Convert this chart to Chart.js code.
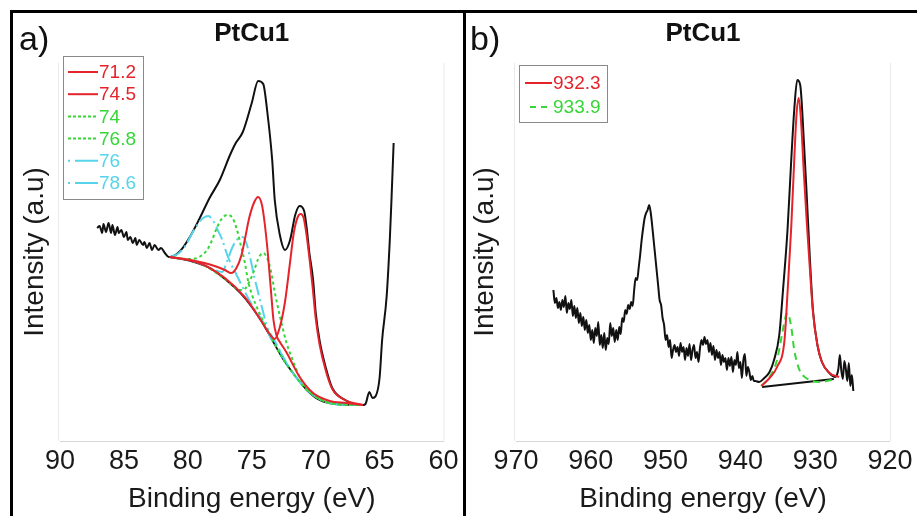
<!DOCTYPE html>
<html><head><meta charset="utf-8">
<script src="https://cdn.jsdelivr.net/npm/chart.js@4.4.1/dist/chart.umd.min.js"></script>
<style>
html,body{margin:0;padding:0;background:#fff;width:917px;height:516px;overflow:hidden;}
#wrap{position:relative;width:917px;height:516px;}
canvas{position:absolute;top:0;}
.ln{position:absolute;background:#000;z-index:5;}
.lbl{position:absolute;font-family:"Liberation Sans",Arial,sans-serif;font-size:34px;line-height:34px;color:#111;z-index:6;}
</style></head><body>
<div id="wrap">
<canvas id="cA" width="463" height="516" style="left:0"></canvas>
<canvas id="cB" width="454" height="516" style="left:463px"></canvas>
<div class="ln" style="left:10px;top:10px;width:907px;height:3px"></div>
<div class="ln" style="left:10px;top:10px;width:3px;height:506px"></div>
<div class="ln" style="left:463px;top:10px;width:3px;height:506px"></div>
<div class="lbl" style="left:19px;top:21px">a)</div>
<div class="lbl" style="left:470px;top:21px">b)</div>
</div>
<script>
// ---------- Panel a : Pt 4f ----------
const ptE = [87.1,86.9,86.7,86.6,86.4,86.2,86.0,85.9,85.7,85.5,85.4,85.2,85.0,84.8,84.7,84.5,84.3,84.1,84.0,83.8,83.5,83.4,83.2,83.0,82.8,82.6,82.3,82.1,81.8,81.5,
  81.4,80.6,79.8,79.1,78.3,77.5,76.7,76.25,75.7,75.0,74.5,74.1,73.8,73.4,73.2,72.8,72.4,72.0,71.6,71.25,70.9,70.7,70.5,70.2,70.0,69.7,69.2,68.7,67.7,66.3,66.1,65.8,65.55,65.3,65.0,64.8,64.45,64.2,64.06,63.9];
const ptI = [213,215,208,217,209,218,208,216,206,214,208,211,204,209,201,204,198,203,196,201,196,199,193,198,191,196,191,193,188,184,
  184,190,205,222,243,261,286,298,309,338,360,357,331,281,241,206,191,201,226,235,230,213,189,161,129,101,73,53,41,36,37,49,43,45,63,101,144,201,244,298];
const ptBgE = [81.4,79.8,78.3,77.1,75.9,75.0,74.2,73.4,72.6,71.6,70.7,69.7,68.5,66.3];
const ptBgI = [184,180,173,162,148,134,119,101,83,65,51,41,37,36];
const pt712E = [81.4,79.1,77.1,75.55,74.4,73.6,73.2,72.8,72.4,72.0,71.7,71.4,71.17,70.94,70.7,70.47,70.23,70.0,69.7,69.2,68.7,67.7,66.3];
const pt712I = [184,178,163,144,123,107,102,114,139,179,209,224,227,223,205,181,153,123,97,70,52,41,36];
const pt745E = [81.4,79.8,78.7,77.9,77.1,76.6,76.2,75.8,75.5,75.2,74.8,74.5,74.2,74.0,73.75,73.5,73.3,73.05,72.8,72.3,71.25,70.2,68.9,67.6,66.3];
const pt745I = [184,181,178,175,171,168,173,186,204,223,239,244,236,219,189,151,121,105,99,89,64,48,40,38,36];
const pt74E = [81.4,79.1,77.1,75.9,75.55,75.2,74.8,74.5,74.1,73.8,73.5,73.2,72.8,72.3,71.8,71.25,70.5,68.5,66.3];
const pt74I = [184,178,162,151,152,159,171,182,188,183,170,149,125,99,81,64,50,37,36];
const pt768E = [81.4,79.8,79.1,78.5,78.1,77.7,77.3,76.9,76.5,76.2,75.9,75.55,75.3,75.0,74.4,73.6,72.6,71.6,70.5,68.5,66.3];
const pt768I = [184,182,184,191,201,214,223,226,223,213,198,179,161,147,128,107,83,65,49,37,36];
const pt76E = [81.4,79.1,77.9,77.3,76.9,76.5,76.1,75.7,75.4,75.1,74.8,74.45,74.05,73.6,73.05,72.0,70.5,68.5,66.3];
const pt76I = [184,178,171,169,181,194,202,204,197,182,164,146,126,105,95,72,49,37,36];
const pt786E = [81.4,80.8,80.2,79.7,79.2,78.8,78.4,78.05,77.7,77.3,77.0,76.7,76.3,75.8,75.2,74.2,73.2,72.0,70.5,68.5,66.3];
const pt786I = [184,187,195,207,217,223,225,221,212,201,189,179,169,156,141,121,100,72,49,37,36];
const ptTicks = [90,85,80,75,70,65,60];

// ---------- Panel b : Cu 2p ----------
const cuE = [965.0,964.8,964.6,964.4,964.2,964.0,963.8,963.6,963.4,963.2,
  963.0,962.8,962.6,962.4,962.2,962.0,961.8,961.6,961.4,961.2,
  961.0,960.8,960.6,960.4,960.2,960.0,959.8,959.6,959.4,959.2,
  959.0,958.8,958.6,958.4,958.2,958.0,957.8,957.6,957.4,957.2,
  957.0,956.8,956.6,956.4,956.2,956.0,955.8,955.6,955.4,955.2,
  955.0,954.8,954.6,954.4,954.2,954.0,953.8,953.6,953.4,953.2,
  953.0,952.8,952.6,952.4,952.2,952.0,951.8,951.6,951.4,951.2,
  951.0,950.8,950.6,950.4,950.2,950.0,949.8,949.6,949.4,949.2,
  949.0,948.8,948.6,948.4,948.2,948.0,947.8,947.6,947.4,947.2,
  947.0,946.8,946.6,946.4,946.2,946.0,945.8,945.6,945.4,945.2,
  945.0,944.8,944.6,944.4,944.2,944.0,943.8,943.6,943.4,943.2,
  943.0,942.8,942.6,942.4,942.2,942.0,941.8,941.6,941.4,941.2,
  941.0,940.8,940.6,940.4,940.2,940.0,939.8,939.6,939.4,939.2,
  939.0,938.8,938.6,938.4,938.2,938.0,
  937.5,936.8,936.1,935.5,934.8,934.3,933.7,933.2,932.8,932.4,932.0,931.5,931.1,930.7,930.3,929.7,929.1,928.1,927.3,
  927.1,926.9,926.7,926.5,926.3,926.1,925.9,925.7,925.5,925.3,925.1,924.9];
const cuI = [151,138,143,133,139,131,141,134,145,128,
  138,132,141,125,135,123,133,118,128,115,
  124,111,121,108,116,101,111,98,113,105,
  119,96,106,93,108,91,103,97,118,105,
  113,99,111,101,114,107,123,119,131,127,
  136,132,139,135,151,163,161,173,186,201,
  213,223,228,231,236,229,216,201,186,171,
  156,141,136,123,116,101,106,94,101,83,
  91,96,89,94,85,98,89,94,81,93,
  85,97,81,91,96,83,89,79,93,101,
  96,104,97,101,89,98,86,95,81,91,
  83,89,76,86,79,83,71,83,75,84,
  69,81,76,89,73,79,63,81,87,65,
  74,69,61,65,60,60,
  59,63,69,81,106,151,211,281,331,361,356,298,241,181,131,96,79,68,64,
  66,72,86,70,62,80,72,60,78,55,66,50];
const cu9323E = [937.2,936.1,935.1,934.1,933.7,933.2,932.8,932.5,932.2,931.9,931.5,931.1,930.7,930.3,929.7,929.1,928.1,926.8];
const cu9323I = [55,63,74,101,148,214,281,326,343,321,266,216,171,129,96,79,68,64];
const cu9339E = [937.2,936.1,935.1,934.4,934.0,933.7,933.2,932.8,932.1,931.2,929.5,927.7];
const cu9339I = [55,64,81,108,123,128,114,91,71,63,59,61];
const cuBgE = [937.1,927.5];
const cuBgI = [54,62];
const cuTicks = [970,960,950,940,930,920];

// ---------- helpers ----------
const FAM = '"Liberation Sans", Arial, sans-serif';
Chart.defaults.font.family = FAM;
const pts = (E, I) => E.map((e, i) => ({x: e, y: I[i]}));
const RED = '#e5232b', GREEN = '#36d636', CYAN = '#55d4ea', BLACK = '#111111';

const plotFrame = {
  id: 'plotFrame',
  beforeDatasetsDraw(chart) {
    const {ctx, chartArea: a} = chart;
    ctx.save();
    ctx.strokeStyle = '#ebebeb'; ctx.lineWidth = 1;
    ctx.beginPath();
    ctx.moveTo(a.left - 1.5, a.top); ctx.lineTo(a.left - 1.5, a.bottom);
    ctx.moveTo(a.right + 0.5, a.top); ctx.lineTo(a.right + 0.5, a.bottom);
    ctx.stroke();
    ctx.restore();
  }
};
const boxLegend = {
  id: 'boxLegend',
  afterDraw(chart, args, o) {
    const ctx = chart.ctx;
    ctx.save();
    ctx.strokeStyle = '#8a8a8a'; ctx.lineWidth = 1;
    ctx.strokeRect(o.x + 0.5, o.y + 0.5, o.w, o.h);
    ctx.font = o.fontSize + 'px ' + FAM;
    ctx.textBaseline = 'middle'; ctx.textAlign = 'left';
    o.items.forEach((it, i) => {
      const ds = chart.data.datasets.find(d => d.label === it.label);
      const cy = o.firstY + i * o.rowH;
      ctx.strokeStyle = ds.borderColor; ctx.lineWidth = 2;
      ctx.setLineDash(it.dash || []); ctx.lineDashOffset = it.offset || 0;
      ctx.beginPath(); ctx.moveTo(o.lineX0, cy); ctx.lineTo(o.lineX1, cy); ctx.stroke();
      ctx.setLineDash([]);
      ctx.fillStyle = ds.borderColor;
      ctx.fillText(ds.label, o.textX, cy + 1);
    });
    ctx.restore();
  }
};

function makeOptions(cfg) {
  return {
    responsive: false, animation: false,
    layout: {padding: {left: cfg.padL, right: cfg.padR, top: 0, bottom: 0}},
    elements: {point: {radius: 0}, line: {cubicInterpolationMode: 'monotone'}},
    plugins: {
      legend: {display: false}, tooltip: {enabled: false},
      title: {display: true, text: 'PtCu1', fullSize: false, color: '#111',
        font: {size: 26, weight: 'bold', family: FAM}, padding: {top: 18.7, bottom: 13.1}},
      boxLegend: cfg.legend
    },
    scales: {
      x: {type: 'linear', reverse: true, min: cfg.min, max: cfg.max,
        afterBuildTicks: s => { s.ticks = cfg.ticks.map(v => ({value: v})); },
        ticks: {color: '#1a1a1a', font: {size: 27, family: FAM}, padding: 4.5, autoSkip: false, maxRotation: 0},
        grid: {display: false, drawTicks: false},
        border: {display: true, color: '#d6d6d6', width: 1},
        title: {display: true, text: 'Binding energy (eV)', color: '#1a1a1a', font: {size: 28, family: FAM}, padding: {top: 0, bottom: 0}},
        afterFit: s => { s.height = 75; }
      },
      y: {type: 'linear', min: 0, max: 378,
        ticks: {display: false}, grid: {display: false, drawTicks: false}, border: {display: false},
        title: {display: true, text: 'Intensity (a.u)', color: '#1a1a1a', font: {size: 28, family: FAM}, padding: {top: 0.5, bottom: 0}},
        afterFit: s => { s.width = cfg.yW; }
      }
    }
  };
}

new Chart(document.getElementById('cA'), {
  type: 'line',
  data: {datasets: [
    {label: 'Pt 4f', data: pts(ptE, ptI), borderColor: BLACK, borderWidth: 2, order: 6},
    {label: 'Background', data: pts(ptBgE, ptBgI), borderColor: BLACK, borderWidth: 1.8, order: 5},
    {label: '76', data: pts(pt76E, pt76I), borderColor: CYAN, borderWidth: 2, borderDash: [14, 4, 2, 4], order: 4},
    {label: '78.6', data: pts(pt786E, pt786I), borderColor: CYAN, borderWidth: 2, borderDash: [14, 4, 2, 4], order: 4},
    {label: '74', data: pts(pt74E, pt74I), borderColor: GREEN, borderWidth: 2, borderDash: [3, 3], order: 3},
    {label: '76.8', data: pts(pt768E, pt768I), borderColor: GREEN, borderWidth: 2, borderDash: [3, 3], order: 3},
    {label: '71.2', data: pts(pt712E, pt712I), borderColor: RED, borderWidth: 2, order: 1},
    {label: '74.5', data: pts(pt745E, pt745I), borderColor: RED, borderWidth: 2, order: 2}
  ]},
  options: makeOptions({padL: 18, padR: 19, yW: 42, min: 60, max: 90, ticks: ptTicks,
    legend: {x: 63, y: 56, w: 80, h: 143, firstY: 72, rowH: 22.2, lineX0: 68, lineX1: 98, textX: 99, fontSize: 19,
      items: [{label: '71.2'}, {label: '74.5'}, {label: '74', dash: [3, 2]}, {label: '76.8', dash: [3, 2]},
              {label: '76', dash: [2, 5, 24, 5]}, {label: '78.6', dash: [2, 5, 24, 5]}]}}),
  plugins: [plotFrame, boxLegend]
});

new Chart(document.getElementById('cB'), {
  type: 'line',
  data: {datasets: [
    {label: 'Cu 2p', data: pts(cuE, cuI), borderColor: BLACK, borderWidth: 2, order: 5},
    {label: 'Background', data: pts(cuBgE, cuBgI), borderColor: BLACK, borderWidth: 1.8, order: 4},
    {label: '933.9', data: pts(cu9339E, cu9339I), borderColor: GREEN, borderWidth: 2, borderDash: [7, 5], order: 2},
    {label: '932.3', data: pts(cu9323E, cu9323I), borderColor: RED, borderWidth: 2, order: 1}
  ]},
  options: makeOptions({padL: 5, padR: 26, yW: 48, min: 920, max: 970, ticks: cuTicks,
    legend: {x: 56, y: 65, w: 88, h: 57, firstY: 83, rowH: 24, lineX0: 62, lineX1: 89, textX: 90, fontSize: 19,
      items: [{label: '932.3'}, {label: '933.9', dash: [6, 5], offset: -5}]}}),
  plugins: [plotFrame, boxLegend]
});
</script>
</body></html>
